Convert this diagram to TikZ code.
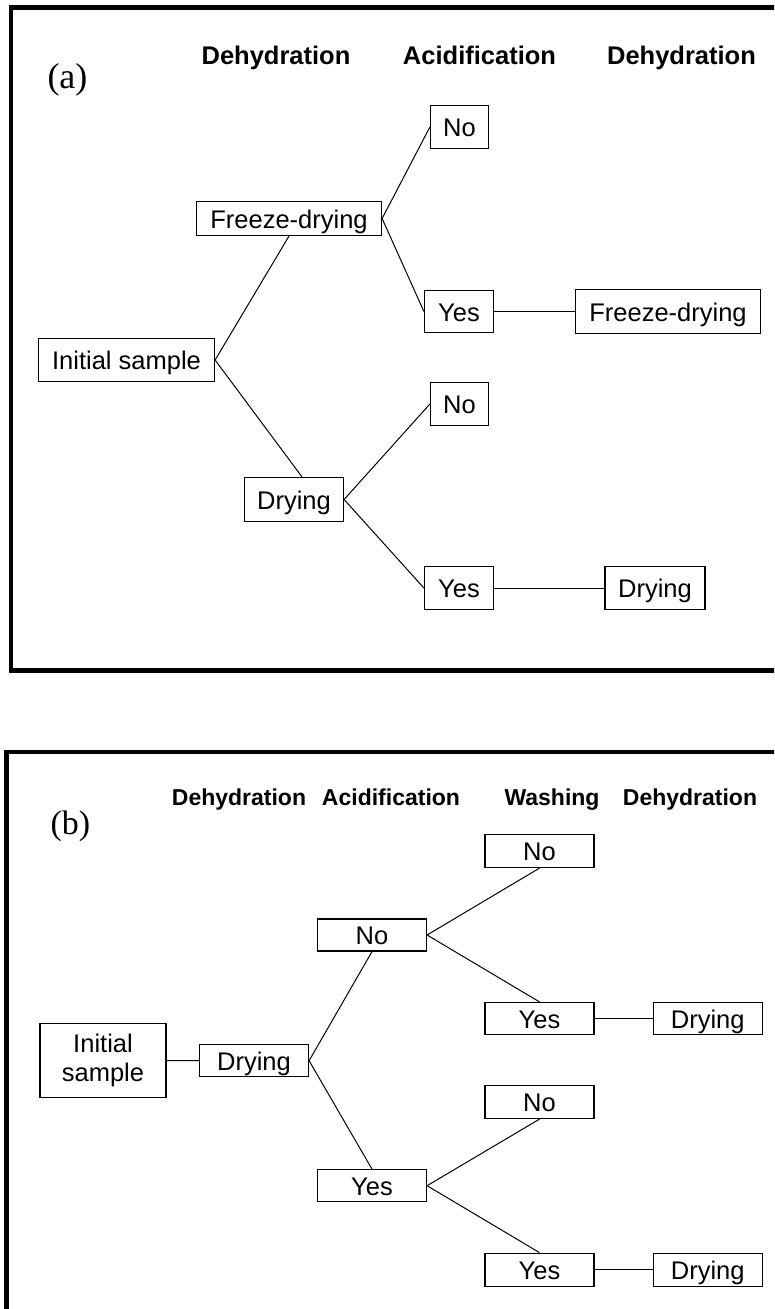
\documentclass[tikz,border=0pt]{standalone}
\usepackage{fontspec}
\newfontfamily\arialfam{Liberation Sans}
\newfontfamily\timesfam{Liberation Serif}
\newcommand{\boxfont}{\arialfam\fontsize{25.5}{29}\selectfont}
\newcommand{\headfont}{\arialfam\bfseries\fontsize{25.5}{29}\selectfont}
\newcommand{\headfontb}{\arialfam\bfseries\fontsize{23}{27}\selectfont}
\begin{document}
\begin{tikzpicture}[x=1pt, y=-1pt, line width=1pt,
   box/.style={draw, line width=1.2pt, inner sep=0pt, font=\boxfont, text height=24pt, text depth=4.5pt},
   head/.style={anchor=base, inner sep=0pt, font=\headfont},
   headb/.style={anchor=base, inner sep=0pt, font=\headfontb},
   panel/.style={anchor=base west, inner sep=0pt},
   frame/.style={line width=4.5pt}]
   \useasboundingbox (0,0) rectangle (774,1309);
   \clip (0,0) rectangle (774,1309);
   % (a)
   \draw[frame] (11,7.5) rectangle (800,670.5);
   \node[panel, font=\timesfam\fontsize{36}{40}\selectfont] (alab) at (47,88.5) {(a)};
   \node[head] (ahA) at (276,64)   {Dehydration};
   \node[head] (ahB) at (479.5,64) {Acidification};
   \node[head] (ahC) at (681.5,64) {Dehydration};
   \node[box, minimum width=176pt, minimum height=43pt] (ainit)    at (126.5,360)  {Initial sample};
   \node[box, minimum width=185pt, minimum height=34pt] (afreeze)  at (289,218.5)  {Freeze-drying};
   \node[box, minimum width=99pt,  minimum height=44pt] (adry)     at (294,499.5)  {Drying};
   \node[box, minimum width=58pt,  minimum height=43pt] (anoA)     at (459.5,127)  {No};
   \node[box, minimum width=69pt,  minimum height=42pt] (ayesA)    at (459,311.5)  {Yes};
   \node[box, minimum width=185pt, minimum height=44pt] (afreezeB) at (668,311.5)  {Freeze-drying};
   \node[box, minimum width=58pt,  minimum height=43pt] (anoB)     at (459.5,404)  {No};
   \node[box, minimum width=69pt,  minimum height=43pt] (ayesB)    at (459,588)    {Yes};
   \node[box, minimum width=100pt, minimum height=43pt] (adryB)    at (655,588)    {Drying};
   \draw (ainit.east) -- (afreeze.south);
   \draw (ainit.east) -- ([xshift=8pt]adry.north);
   \draw (afreeze.east) -- (anoA.west);
   \draw (afreeze.east) -- (ayesA.west);
   \draw (ayesA) -- (afreezeB);
   \draw (adry.east) -- (anoB.west);
   \draw (adry.east) -- (ayesB.west);
   \draw (ayesB) -- (adryB);
   % (b)
   \draw[frame] (6.5,752) rectangle (800,1330);
   \node[panel, font=\timesfam\fontsize{34}{38}\selectfont] (blab) at (50,834) {(b)};
   \node[headb] (bhA) at (239,805) {Dehydration};
   \node[headb] (bhB) at (391,805) {Acidification};
   \node[headb] (bhC) at (552,805) {Washing};
   \node[headb] (bhD) at (690,805) {Dehydration};
   \node[box, minimum width=126pt, minimum height=74pt, text height={}, text depth={}, align=center] (binit) at (103,1060.5) {Initial\\sample};
   \node[box, minimum width=109pt, minimum height=32pt] (bdry)  at (254,1060.7)   {Drying};
   \node[box, minimum width=109pt, minimum height=32pt] (bno)   at (372,935)      {No};
   \node[box, minimum width=109pt, minimum height=32pt] (byes)  at (372,1185.7)   {Yes};
   \node[box, minimum width=109pt, minimum height=33pt] (bnoA)  at (539.5,851)    {No};
   \node[box, minimum width=109pt, minimum height=32pt] (byesA) at (539.5,1018.5) {Yes};
   \node[box, minimum width=109pt, minimum height=32pt] (bdryA) at (707.7,1018.5) {Drying};
   \node[box, minimum width=109pt, minimum height=33pt] (bnoB)  at (539.5,1102)   {No};
   \node[box, minimum width=109pt, minimum height=33pt] (byesB) at (539.5,1269.7) {Yes};
   \node[box, minimum width=109pt, minimum height=33pt] (bdryB) at (707.7,1269.7) {Drying};
   \draw (binit) -- (bdry);
   \draw (bdry.east) -- (bno.south);
   \draw (bdry.east) -- (byes.north);
   \draw (bno.east) -- (bnoA.south);
   \draw (bno.east) -- (byesA.north);
   \draw (byesA) -- (bdryA);
   \draw (byes.east) -- (bnoB.south);
   \draw (byes.east) -- (byesB.north);
   \draw (byesB) -- (bdryB);
\end{tikzpicture}
\end{document}
